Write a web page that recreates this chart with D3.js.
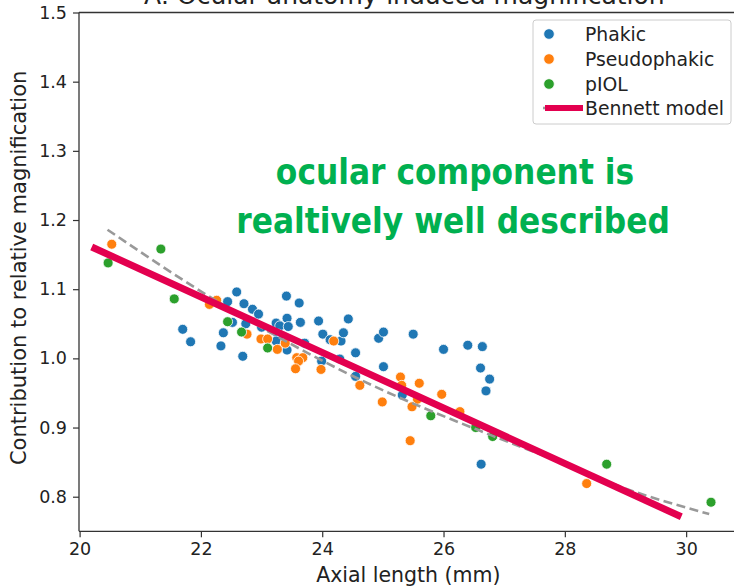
<!DOCTYPE html>
<html><head><meta charset="utf-8">
<script src="https://cdn.jsdelivr.net/npm/d3@7/dist/d3.min.js"></script>
<style>body{margin:0;background:#fff}svg{display:block}text{font-family:"DejaVu Sans",sans-serif}</style>
</head><body><svg id="c" width="734" height="587"></svg>
<script>
// ---- data ----
const phakicX = [21.70,21.83,22.33,22.37,22.44,22.52,22.59,22.69,22.71,22.74,22.85,22.95,23.00,23.24,23.30,23.28,23.35,23.24,23.41,23.42,23.44,23.42,23.62,23.64,23.71,23.94,24.01,24.13,24.31,24.35,24.43,23.99,24.29,24.55,24.55,24.93,25.01,25.01,25.32,25.50,26.00,26.40,26.64,26.61,26.76,26.70,26.62];
const phakicY = [1.042,1.024,1.018,1.037,1.082,1.052,1.096,1.003,1.079,1.050,1.071,1.064,1.045,1.051,1.047,1.035,1.032,1.025,1.090,1.058,1.046,1.012,1.080,1.052,1.022,1.054,1.035,1.027,1.025,1.037,1.057,0.996,0.999,1.008,0.974,1.029,1.038,0.988,0.947,1.035,1.013,1.019,1.017,0.986,0.970,0.953,0.847];
const pseudoX = [20.53,22.14,22.26,22.76,22.99,23.10,23.26,23.39,23.58,23.68,23.61,23.56,23.98,24.19,24.62,24.99,25.29,25.31,25.60,25.57,25.48,25.97,26.27,25.45,28.36];
const pseudoY = [1.165,1.078,1.084,1.035,1.028,1.028,1.013,1.022,1.001,1.001,0.996,0.985,0.984,1.025,0.961,0.937,0.973,0.961,0.964,0.941,0.930,0.948,0.923,0.881,0.819];
const piolX = [20.47,21.34,21.56,22.44,22.67,23.10,25.79,26.53,26.81,28.69,30.41];
const piolY = [1.138,1.158,1.086,1.053,1.038,1.015,0.917,0.900,0.887,0.847,0.792];
const bennettX = [20.20,29.92];
const bennettY = [1.161,0.771];
const fitX = [20.46,22.09,23.13,24.56,26.81,27.96,28.90,30.38];
const fitY = [1.186,1.092,1.038,0.972,0.888,0.849,0.815,0.775];
const xTicks = [20,22,24,26,28,30];
const yTicks = [0.8,0.9,1.0,1.1,1.2,1.3,1.4,1.5];
const seriesNames = ["Phakic","Pseudophakic","pIOL"];
const seriesColors = ["#1f77b4","#ff7f0e","#2ca02c"];
const lineName = "Bennett model";
const titleText = "A: Ocular anatomy-induced magnification";
const xLabel = "Axial length (mm)";
const yLabel = "Contribution to relative magnification";
const noteLines = ["ocular component is","realtively well described"];

// ---- layout ----
const svg = d3.select("#c");
const L = 79, R = 737.7, T = 12.5, B = 531.3;
const x = d3.scaleLinear().domain([19.99,30.85]).range([L,R]);
const y = d3.scaleLinear().domain([0.75,1.5]).range([B,T]);
const ink = "#333";

// title (partially cut off at top, as in the reference)
svg.append("text").attr("x",(L+R)/2 - 4).attr("y",4).attr("text-anchor","middle")
  .attr("font-size",25).attr("fill","#222").text(titleText);

// axes
const gx = svg.append("g").attr("transform",`translate(0,${B})`)
  .call(d3.axisBottom(x).tickValues(xTicks).tickFormat(d3.format("d")).tickSizeOuter(0).tickSize(6).tickPadding(5));
const gy = svg.append("g").attr("transform",`translate(${L},0)`)
  .call(d3.axisLeft(y).tickValues(yTicks).tickFormat(d3.format(".1f")).tickSizeOuter(0).tickSize(6).tickPadding(6));
[gx,gy].forEach(g=>{
  g.select(".domain").remove();
  g.selectAll(".tick line").attr("stroke",ink).attr("stroke-width",1.2);
  g.selectAll(".tick text").attr("fill","#222").attr("font-size",17.5).attr("font-family","DejaVu Sans");
});
// spines
svg.append("line").attr("x1",L).attr("x2",L).attr("y1",T).attr("y2",B).attr("stroke",ink).attr("stroke-width",1.3);
svg.append("line").attr("x1",L).attr("x2",R).attr("y1",B).attr("y2",B).attr("stroke",ink).attr("stroke-width",1.3);
svg.append("line").attr("x1",L).attr("x2",R).attr("y1",T).attr("y2",T).attr("stroke",ink).attr("stroke-width",1.3);
svg.append("line").attr("x1",R).attr("x2",R).attr("y1",T).attr("y2",B).attr("stroke",ink).attr("stroke-width",1.3);

// axis labels
svg.append("text").attr("x",(L+R)/2).attr("y",582).attr("text-anchor","middle")
  .attr("font-size",20.5).attr("fill","#222").text(xLabel);
svg.append("text").attr("transform",`translate(26,${(T+B)/2 - 4}) rotate(-90)`).attr("text-anchor","middle")
  .attr("font-size",21).attr("fill","#222").text(yLabel);

// scatter
const series = [[phakicX,phakicY],[pseudoX,pseudoY],[piolX,piolY]];
series.forEach((s,i)=>{
  svg.append("g").selectAll("circle").data(s[0].map((v,j)=>[v,s[1][j]])).join("circle")
    .attr("cx",d=>x(d[0])).attr("cy",d=>y(d[1])).attr("r",5)
    .attr("fill",seriesColors[i]).attr("stroke","#fff").attr("stroke-width",0.8);
});

// fitted dashed curve
const line = d3.line().x(d=>x(d[0])).y(d=>y(d[1])).curve(d3.curveMonotoneX);
svg.append("path").datum(fitX.map((v,j)=>[v,fitY[j]])).attr("d",line)
  .attr("fill","none").attr("stroke","#999").attr("stroke-width",2.6).attr("stroke-dasharray","9,4.5");
// Bennett model
svg.append("path").datum(bennettX.map((v,j)=>[v,bennettY[j]])).attr("d",d3.line().x(d=>x(d[0])).y(d=>y(d[1])))
  .attr("fill","none").attr("stroke","#e3004f").attr("stroke-width",7);

// annotation
noteLines.forEach((t,i)=>{
  const cx = i===0 ? 455 : 453, by = 184 + i*49;
  svg.append("text").attr("transform",`translate(${cx},${by}) scale(0.895,1)`).attr("text-anchor","middle")
    .attr("font-family","Lato").attr("font-weight","bold").attr("font-size",35)
    .attr("fill","#00b050").text(t);
});

// legend
const lg = svg.append("g");
lg.append("rect").attr("x",533).attr("y",20).attr("width",198).attr("height",104).attr("rx",3)
  .attr("fill","#fff").attr("fill-opacity",0.8).attr("stroke","#ccc").attr("stroke-width",1);
seriesNames.forEach((n,i)=>{
  const yy = 34 + i*25;
  lg.append("circle").attr("cx",549).attr("cy",yy).attr("r",5.3).attr("fill",seriesColors[i]).attr("stroke","#fff").attr("stroke-width",0.8);
  lg.append("text").attr("x",585).attr("y",yy+6.5).attr("font-size",18.8).attr("fill","#222").text(n);
});
lg.append("line").attr("x1",543).attr("x2",547).attr("y1",108).attr("y2",108).attr("stroke","#999").attr("stroke-width",2.6);
lg.append("line").attr("x1",545).attr("x2",583).attr("y1",108).attr("y2",108).attr("stroke","#e3004f").attr("stroke-width",6);
lg.append("text").attr("x",585).attr("y",114.5).attr("font-size",18.8).attr("fill","#222").text(lineName);
</script></body></html>
